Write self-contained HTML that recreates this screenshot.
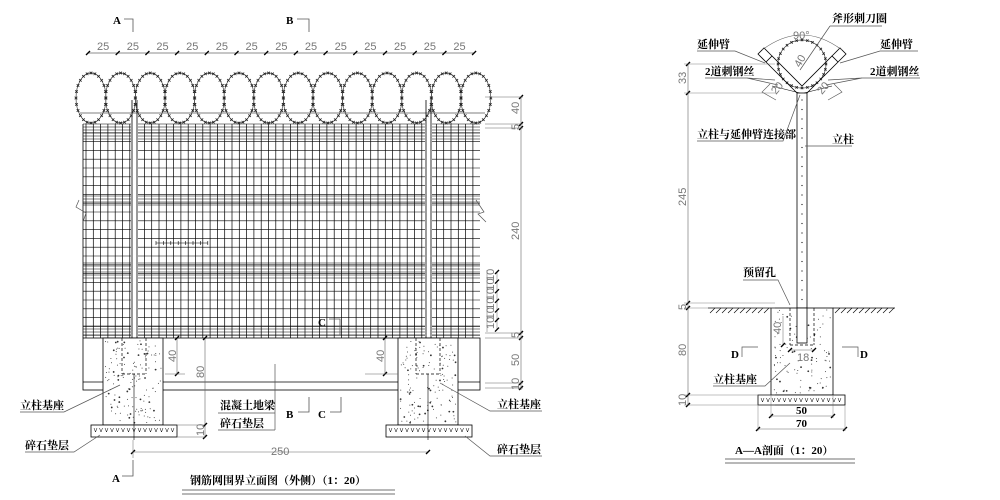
<!DOCTYPE html>
<html><head><meta charset="utf-8">
<style>
html,body{margin:0;padding:0;background:#fff;}
svg{display:block;}
text{font-family:"Liberation Serif","Noto Serif CJK SC",serif;}
.lb{font-size:11px;font-weight:bold;fill:#000;}
.dm{font-family:"Liberation Sans",sans-serif;font-size:11px;fill:#777;}
</style></head>
<body>
<svg id="s" width="1000" height="500" viewBox="0 0 1000 500" xmlns="http://www.w3.org/2000/svg">
<rect width="1000" height="500" fill="#fff"/>
<g id="g" stroke="#000" stroke-width="0.8" fill="none"></g>
<g id="t"></g>
<text class="lb" x="113" y="24" font-size="13">A</text>
<path d="M124 19 H133 V32" stroke="#555" fill="none" stroke-width="0.8"/>
<text class="lb" x="286" y="24" font-size="13">B</text>
<path d="M297 19 H309 V32" stroke="#555" fill="none" stroke-width="0.8"/>
<text class="lb" x="112" y="482" font-size="13">A</text>
<path d="M122 476 H133 V460" stroke="#555" fill="none" stroke-width="0.8"/>
<text class="lb" x="318" y="326" font-size="13">C</text>
<path d="M329 319 H340 V335" stroke="#555" fill="none" stroke-width="0.8"/>
<text class="lb" x="286" y="418" font-size="13">B</text>
<path d="M298 412 H309 V397" stroke="#555" fill="none" stroke-width="0.8"/>
<text class="lb" x="318" y="418" font-size="13">C</text>
<path d="M330 412 H341 V397" stroke="#555" fill="none" stroke-width="0.8"/>
<text class="lb" x="20" y="409">立柱基座</text>
<path d="M20 412 H64 L120 385" stroke="#555" fill="none" stroke-width="0.7"/>
<text class="lb" x="25" y="449">碎石垫层</text>
<path d="M25 452 H74 L100 435" stroke="#555" fill="none" stroke-width="0.7"/>
<text class="lb" x="497" y="408">立柱基座</text>
<path d="M542 411 H490 L440 383" stroke="#555" fill="none" stroke-width="0.7"/>
<text class="lb" x="497" y="453">碎石垫层</text>
<path d="M542 456 H490 L465 436" stroke="#555" fill="none" stroke-width="0.7"/>
<text class="lb" x="220" y="409">混凝土地梁</text>
<path d="M218 413 H275 M218 430 H275 M275 430 V364" stroke="#555" fill="none" stroke-width="0.7"/>
<text class="lb" x="220" y="427">碎石垫层</text>
<text class="dm" x="271" y="455" font-size="12">250</text>
<text class="lb" x="190" y="484" font-size="14">钢筋网围界立面图（外侧）（1：20）</text>
<path d="M182 490 H395 M182 494 H395" stroke="#444" stroke-width="0.8"/>
<text class="lb" x="832" y="22">斧形刺刀圈</text>
<path d="M830 26 H882 M830 26 L800 70" stroke="#555" fill="none" stroke-width="0.7"/>
<text class="lb" x="697" y="48">延伸臂</text>
<path d="M697 51 H735 L765 63" stroke="#555" fill="none" stroke-width="0.7"/>
<text class="lb" x="880" y="48">延伸臂</text>
<path d="M918 51 H880 L840 63" stroke="#555" fill="none" stroke-width="0.7"/>
<text class="lb" x="705" y="75">2道刺钢丝</text>
<path d="M705 78 H747 L775 80 M747 78 L778 85" stroke="#555" fill="none" stroke-width="0.7"/>
<text class="lb" x="870" y="75">2道刺钢丝</text>
<path d="M920 78 H862 L828 80 M862 78 L826 85" stroke="#555" fill="none" stroke-width="0.7"/>
<text class="lb" x="697" y="138">立柱与延伸臂连接部</text>
<path d="M697 141 H783 L800 95" stroke="#555" fill="none" stroke-width="0.7"/>
<text class="lb" x="832" y="143">立柱</text>
<path d="M805 146 H852" stroke="#555" fill="none" stroke-width="0.7"/>
<text class="lb" x="743" y="276">预留孔</text>
<path d="M743 280 H778 L790 305" stroke="#555" fill="none" stroke-width="0.7"/>
<text class="lb" x="731" y="358" font-size="13">D</text>
<path d="M742 357 V347 H758" stroke="#555" fill="none" stroke-width="0.7"/>
<text class="lb" x="860" y="358" font-size="13">D</text>
<path d="M858 357 V347 H842" stroke="#555" fill="none" stroke-width="0.7"/>
<text class="lb" x="713" y="383">立柱基座</text>
<path d="M713 386 H765 L790 363" stroke="#555" fill="none" stroke-width="0.7"/>
<text class="lb" x="796" y="414">50</text>
<text class="lb" x="796" y="427">70</text>
<text class="lb" x="735" y="454" font-size="14">A—A剖面（1：20）</text>
<path d="M725 459 H855 M725 463 H855" stroke="#444" stroke-width="0.8"/>
<text class="dm" x="793" y="39" font-size="10">90°</text>
<text class="dm" transform="translate(800 68) rotate(-60)" font-size="10">40</text>
<text class="dm" transform="translate(776 95) rotate(-50)" font-size="10">20</text>
<text class="dm" transform="translate(822 95) rotate(-50)" font-size="10">20</text>
<text class="dm" transform="translate(797 361)" font-size="11">18</text>
</svg>
<script>
const NS="http://www.w3.org/2000/svg";
const g=document.getElementById('g'),T=document.getElementById('t');
function el(n,a,p){const e=document.createElementNS(NS,n);for(const k in a)e.setAttribute(k,a[k]);(p||g).appendChild(e);return e;}
function L(x1,y1,x2,y2,c,w,d){const a={x1,y1,x2,y2};if(c)a.stroke=c;if(w)a['stroke-width']=w;if(d)a['stroke-dasharray']=d;return el('line',a);}
function R(x,y,w,h,a){return el('rect',Object.assign({x,y,width:w,height:h},a||{}));}
function tick(x,y){L(x-2,y+2,x+2,y-2,'#000',1.3);}
function txt(x,y,s,rot,cls,fs){const e=el('text',{x:0,y:0,class:cls||'dm',transform:`translate(${x} ${y})`+(rot?` rotate(${rot})`:'')},T);if(fs)e.setAttribute('font-size',fs);e.textContent=s;}
L(88,53,474,53,'#666',0.7);
for(let i=0;i<=13;i++){const x=88+i*29.7;tick(x,53);if(i<13)txt(x+9,50,'25',0,'dm',11);}
const mx0=83,mx1=480,my0=124,my1=338;
for(let x=mx0+3;x<=mx1;x+=7.3){ if((x>131&&x<138)||(x>425&&x<432))continue; L(x,my0,x,my1,'#000',0.7);}
let hy=[];for(let y=my0;y<=my1;y+=8.8)hy.push(y);
[127,130,133,136,139,196,199,202,205,263,266,269,272,275,278,326,329,332,335].forEach(y=>hy.push(y));
hy.forEach(y=>{L(mx0,y,131,y,'#000',0.6);L(138,y,425,y,'#000',0.6);L(432,y,mx1,y,'#000',0.6);});
L(mx0,my0,mx0,my1,'#000',0.8);
[[132,137],[426,431]].forEach(p=>{L(p[0],100,p[0],338,'#000',0.8);L(p[1],100,p[1],338,'#000',0.8);});
el('path',{d:'M79 200 L76 207 L86 213 L83 222',stroke:'#555','stroke-width':0.7});
el('path',{d:'M476 200 L484 212 L478 214 L486 222',stroke:'#555','stroke-width':0.7});
L(156,243,208,243,'#000',0.6);for(let i=0;i<8;i++){const x=156+i*7.4;L(x,241,x,245,'#000',0.6);}
for(let i=0;i<14;i++){const cx=91+i*29.6,cy=98;
 el('ellipse',{cx,cy,rx:15,ry:25,stroke:'#444','stroke-width':0.7});
 for(let a=0;a<24;a++){const t=a/24*Math.PI*2;const px=cx+15*Math.cos(t),py=cy+25*Math.sin(t);
  L(px-1.3,py-1.3,px+1.3,py+1.3,'#222',0.8);L(px-1.3,py+1.3,px+1.3,py-1.3,'#222',0.8);}
}
L(80,113,485,113,'#000',0.6);
R(83,338,397,52,{stroke:'#000','stroke-width':0.8,fill:'#fff'});
L(83,382,480,382,'#000',0.7);
function conc(x,y,w,h,n){R(x,y,w,h,{fill:'#fff',stroke:'#000','stroke-width':0.8});
 let s=x*7+y;for(let i=0;i<n;i++){s=(s*9301+49297)%233280;const px=x+2+(s/233280)*(w-4);s=(s*9301+49297)%233280;const py=y+2+(s/233280)*(h-4);
 el('circle',{cx:px,cy:py,r:(i%5==0?0.9:0.5),fill:'#333',stroke:'none'});}}
function pad(x,y,w,h){R(x,y,w,h,{fill:'#fff',stroke:'#000','stroke-width':0.8});
 for(let px=x+3;px<x+w-2;px+=5.5)el('path',{d:`M${px} ${y+3} L${px+1.5} ${y+7} L${px+3} ${y+3}`,stroke:'#000','stroke-width':0.5});}
[[103,134],[398,428]].forEach(f=>{const x=f[0],c=f[1];
 conc(x,338,60,87,140);pad(x-12,425,86,12);
 L(c-12,338,c-12,374,'#000',0.7,'3 2');L(c+12,338,c+12,374,'#000',0.7,'3 2');L(c-12,374,c+12,374,'#000',0.7,'3 2');
 L(c,374,c,440,'#000',0.6);
});
L(177,338,177,374,'#666',0.6);tick(177,338);tick(177,374);txt(176,362,'40',-90);
L(205,338,205,437,'#666',0.6);tick(205,338);tick(205,437);txt(204,378,'80',-90);
L(177,425,205,425,'#666',0.6);L(177,437,205,437,'#666',0.6);tick(205,425);txt(204,436,'10',-90,'dm',10);
L(385,338,385,374,'#666',0.6);tick(385,338);tick(385,374);txt(384,362,'40',-90);
L(165,374,185,374,'#666',0.6);L(365,374,398,374,'#666',0.6);
L(133,452,428,452,'#666',0.6);tick(133,452);tick(428,452);L(133,440,133,458,'#666',0.5);
L(521,97,521,390,'#666',0.6);
[97,124,128,333,338,383,388].forEach(y=>{tick(521,y);L(485,y,523,y,'#666',0.5);});
txt(519,114,'40',-90);txt(519,130,'5',-90,'dm',10);txt(519,240,'240',-90);txt(519,338,'5',-90,'dm',10);txt(519,366,'50',-90);txt(519,390,'10',-90,'dm',10);
L(497,272,497,330,'#666',0.5);for(let i=0;i<7;i++){const y=272+i*9.6;tick(497,y);if(i<6)txt(494,y+9,'10',-90,'dm',7);}
L(487,270,487,332,'#666',0.5);
L(797,93,797,343,'#000',0.8);L(807,93,807,343,'#000',0.8);L(797,93,807,93,'#000',0.8);L(797,343,807,343,'#000',0.8);
for(let y=100;y<340;y+=9.5)el('circle',{cx:802,cy:y,r:0.6,fill:'#000',stroke:'none'});
L(708,308,771,308,'#000',0.8);L(833,308,895,308,'#000',0.8);
for(let x=710;x<769;x+=6)L(x,313,x+5,308,'#000',0.6);
for(let x=835;x<893;x+=6)L(x,313,x+5,308,'#000',0.6);
conc(771,308,62,87,110);
R(797,308,10,35,{fill:'#fff',stroke:'#000','stroke-width':0.8});
L(790,308,790,345,'#000',0.7,'3 2');L(814,308,814,345,'#000',0.7,'3 2');L(790,345,814,345,'#000',0.7,'3 2');
pad(758,395,87,10);
el('circle',{cx:802,cy:64,r:24,stroke:'#444','stroke-width':0.7});
for(let a=0;a<28;a++){const t=a/28*Math.PI*2;const px=802+24*Math.cos(t),py=64+24*Math.sin(t);
 L(px-1.2,py-1.2,px+1.2,py+1.2,'#222',0.8);L(px-1.2,py+1.2,px+1.2,py-1.2,'#222',0.8);}
el('path',{d:'M797 93 L766 62 L772 56 L802 86 L832 56 L838 62 L807 93',stroke:'#000','stroke-width':0.8});
el('path',{d:'M766 62 L758 54 L764 48 L772 56 M838 62 L846 54 L840 48 L832 56',stroke:'#000','stroke-width':0.8});
el('path',{d:'M762 50 Q802 20 842 50',stroke:'#555','stroke-width':0.6});
L(772,86,800,93,'#000',0.6);L(832,86,804,93,'#000',0.6);
el('path',{d:'M770 84 L762 92 L776 100 M834 84 L842 92 L828 100',stroke:'#555','stroke-width':0.6});
L(688,64,688,405,'#666',0.6);
[64,93,303,308,395,405].forEach(y=>{tick(688,y);L(684,y,775,y,'#666',0.4);});
txt(686,84,'33',-90);txt(686,206,'245',-90);txt(686,310,'5',-90,'dm',10);txt(686,356,'80',-90);txt(686,406,'10',-90,'dm',10);
L(783,316,783,345,'#666',0.5);tick(783,345);txt(781,334,'40',-90,'dm',10);
L(790,350,814,350,'#666',0.5);tick(790,350);tick(814,350);
L(771,416,833,416,'#666',0.5);tick(771,416);tick(833,416);
L(758,429,845,429,'#666',0.5);tick(758,429);tick(845,429);
L(771,395,771,418,'#666',0.4);L(833,395,833,418,'#666',0.4);L(758,405,758,431,'#666',0.4);L(845,405,845,431,'#666',0.4);
</script>
</body></html>
